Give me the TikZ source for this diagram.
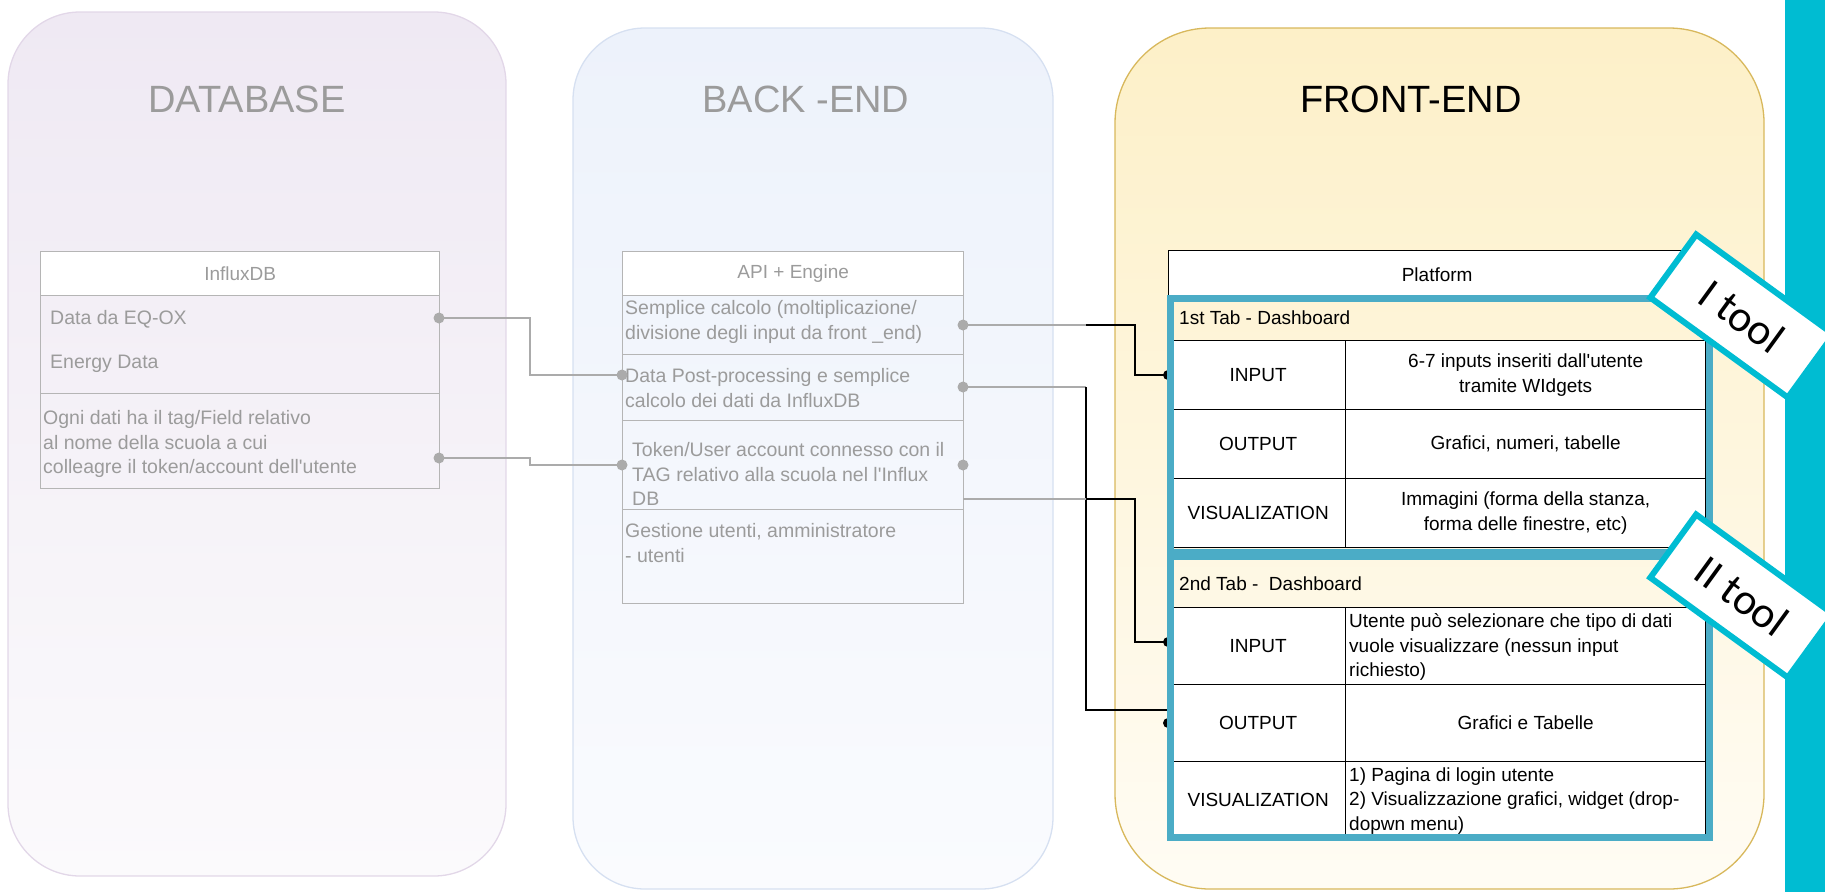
\documentclass[tikz,border=0pt]{standalone}
\usepackage{fontspec}
\setmainfont{Liberation Sans}
\newfontfamily\toolfont{Carlito}
\definecolor{dbtop}{HTML}{EFE9F3}
\definecolor{dbbot}{HTML}{FBFAFC}
\definecolor{dbedge}{HTML}{E2D7E8}
\definecolor{betop}{HTML}{EDF2FB}
\definecolor{bebot}{HTML}{FAFBFE}
\definecolor{beedge}{HTML}{D6E0F1}
\definecolor{fetop}{HTML}{FDF0C8}
\definecolor{febot}{HTML}{FFFCF4}
\definecolor{feedge}{HTML}{D8B85C}
\definecolor{txtgray}{HTML}{9B9B9B}
\definecolor{boxgray}{HTML}{B5B5B5}
\definecolor{linegray}{HTML}{ABABAB}
\definecolor{tabblue}{HTML}{4BACC6}
\definecolor{toolcyan}{HTML}{00BCD2}
\begin{document}
\begin{tikzpicture}[x=1pt,y=-1pt,
    panel/.style={line width=1.3pt},
    title/.style={font=\fontsize{38}{44}\selectfont, inner sep=0pt},
    cell/.style={draw=boxgray, line width=1.4pt, anchor=north west, inner sep=0pt},
    gtext/.style={text=txtgray, font=\fontsize{19.5}{24.5}\selectfont, inner sep=0pt, align=left},
    tcell/.style={draw=black, line width=1.3pt, fill=white, anchor=north west, inner sep=0pt,
        font=\fontsize{19}{24.5}\selectfont, align=center},
    ttext/.style={font=\fontsize{19}{24.5}\selectfont, inner sep=0pt, align=left},
    gdot/.style={circle, fill=linegray, inner sep=0pt, minimum size=11pt},
    bdot/.style={circle, fill=black, inner sep=0pt, minimum size=10pt},
    gline/.style={draw=linegray, line width=2pt},
    bline/.style={draw=black, line width=1.5pt},
    tabframe/.style={draw=tabblue, line width=7pt},
    toolbox/.style={draw=toolcyan, line width=6pt, fill=white, minimum width=170pt,
        minimum height=78pt, rotate=-36, font=\toolfont\fontsize{44}{50}\selectfont}]
    \useasboundingbox (0,0) rectangle (1825,892);
    % Panels
    \draw[panel, draw=dbedge, top color=dbtop, bottom color=dbbot, rounded corners=72pt] (8,12) rectangle (506,876);
    \draw[panel, draw=beedge, top color=betop, bottom color=bebot, rounded corners=72pt] (573,28) rectangle (1053,889);
    \draw[panel, draw=feedge, top color=fetop, bottom color=febot, rounded corners=95pt] (1115,28) rectangle (1764,889);
    \node[title, text=txtgray] (dbtitle) at (247,99) {DATABASE};
    \node[title, text=txtgray] (betitle) at (806,99) {BACK -END};
    \node[title] (fetitle) at (1411,99) {FRONT-END};
    % InfluxDB
    \node[cell, fill=white, minimum width=399pt, minimum height=44pt, text=txtgray,
        font=\fontsize{19}{24}\selectfont] (influx) at (40,251) {InfluxDB};
    \node[cell, minimum width=399pt, minimum height=98pt] (influxdata) at (40,295) {};
    \node[cell, minimum width=399pt, minimum height=95pt] (influxtag) at (40,393) {};
    \node[gtext, anchor=west] (eqox) at (50,319) {Data da EQ-OX};
    \node[gtext, anchor=west] (energy) at (50,364) {Energy Data};
    \node[gtext, anchor=west] (tagtext) at (43,444) {Ogni dati ha il tag/Field relativo\\al nome della scuola a cui\\colleagre il token/account dell\textquotesingle utente};
    % API + Engine
    \node[cell, fill=white, minimum width=341pt, minimum height=44pt, text=txtgray,
        font=\fontsize{19}{24}\selectfont] (api) at (622,251) {API + Engine};
    \node[cell, minimum width=341pt, minimum height=59pt] (apicalc) at (622,295) {};
    \node[cell, minimum width=341pt, minimum height=66pt] (apipost) at (622,354) {};
    \node[cell, minimum width=341pt, minimum height=89pt] (apitoken) at (622,420) {};
    \node[cell, minimum width=341pt, minimum height=94pt] (apiusers) at (622,509) {};
    \node[gtext, anchor=west] (calctext) at (625,322) {Semplice calcolo (moltiplicazione/\\divisione degli input da front \_end)};
    \node[gtext, anchor=west] (posttext) at (625,388) {Data Post-processing e semplice\\calcolo dei dati da InfluxDB};
    \node[gtext, anchor=west] (tokentext) at (632,474) {Token/User account connesso con il\\TAG relativo alla scuola nel l\textquotesingle Influx\\DB};
    \node[gtext, anchor=west] (userstext) at (625,543) {Gestione utenti, amministratore\\- utenti};
    % Platform
    \node[tcell, minimum width=537pt, minimum height=48pt] (platform) at (1168,250) {Platform};
    \node[tcell, fill=none, minimum width=535pt, minimum height=42pt] (tabone) at (1170,298) {};
    \node[ttext, anchor=west] (tabonetext) at (1179,318) {1st Tab - Dashboard};
    \node[tcell, minimum width=175pt, minimum height=69pt] (inone) at (1170,340) {INPUT};
    \node[tcell, minimum width=360pt, minimum height=69pt] (inoneval) at (1345,340) {6-7 inputs inseriti dall\textquotesingle utente\\tramite WIdgets};
    \node[tcell, minimum width=175pt, minimum height=69pt] (outone) at (1170,409) {OUTPUT};
    \node[tcell, minimum width=360pt, minimum height=69pt] (outoneval) at (1345,409) {Grafici, numeri, tabelle};
    \node[tcell, minimum width=175pt, minimum height=69pt] (visone) at (1170,478) {VISUALIZATION};
    \node[tcell, minimum width=360pt, minimum height=69pt] (visoneval) at (1345,478) {Immagini (forma della stanza,\\forma delle finestre, etc)};
    \node[tcell, fill=none, minimum width=535pt, minimum height=52pt] (tabtwo) at (1170,555) {};
    \node[ttext, anchor=west] (tabtwotext) at (1179,584) {2nd Tab -~ Dashboard};
    \node[tcell, minimum width=175pt, minimum height=77pt] (intwo) at (1170,607) {INPUT};
    \node[tcell, minimum width=360pt, minimum height=77pt] (intwoval) at (1345,607) {};
    \node[tcell, minimum width=175pt, minimum height=77pt] (outtwo) at (1170,684) {OUTPUT};
    \node[tcell, minimum width=360pt, minimum height=77pt] (outtwoval) at (1345,684) {Grafici e Tabelle};
    \node[tcell, minimum width=175pt, minimum height=76pt] (vistwo) at (1170,761) {VISUALIZATION};
    \node[tcell, minimum width=360pt, minimum height=76pt] (vistwoval) at (1345,761) {};
    \node[ttext, anchor=west] (intwotext) at (1349,647) {Utente può selezionare che tipo di dati\\vuole visualizzare (nessun input\\richiesto)};
    \node[ttext, anchor=west] (vistwotext) at (1349,801) {1) Pagina di login utente\\2) Visualizzazione grafici, widget (drop-\\dopwn menu)};
    % Ports
    \foreach \n/\x/\y in {pdbone/439/318, pdbtwo/439/458, papione/622/375, papitwo/622/465,
        pcalc/963/325, ppost/963/387, ptoken/963/465}
        \node[gdot] (\n) at (\x,\y) {};
    \foreach \n/\x/\y in {pinone/1168/375, pintwo/1168/642, pouttwo/1168/723}
        \node[bdot] (\n) at (\x,\y) {};
    \coordinate (ptokenout) at (963,499);
    \coordinate (poutline) at (1168,710);
    % Connectors
    \draw[gline] (pdbone.center) -- ++(91,0) |- (papione.center);
    \draw[gline] (pdbtwo.center) -- ++(91,0) |- (papitwo.center);
    \draw[gline] (pcalc.center) -- ++(123,0) coordinate (kcalc);
    \draw[bline] (kcalc) -- ++(49,0) |- (pinone.center);
    \draw[gline] (ppost.center) -- ++(123,0) coordinate (kpost);
    \draw[bline] (kpost) |- (poutline);
    \draw[gline] (ptokenout) -- ++(123,0) coordinate (ktoken);
    \draw[bline] (ktoken) -- ++(49,0) |- (pintwo.center);
    % Tool frames
    \draw[tabframe] (1170,298) rectangle (1709,552);
    \draw[tabframe] (1170,556) rectangle (1709,837);
    \fill[toolcyan] (1785,0) rectangle (1825,892);
    \node[toolbox] (toolone) at (1742,316) {I tool};
    \node[toolbox] (tooltwo) at (1742,596) {II tool};
\end{tikzpicture}
\end{document}
